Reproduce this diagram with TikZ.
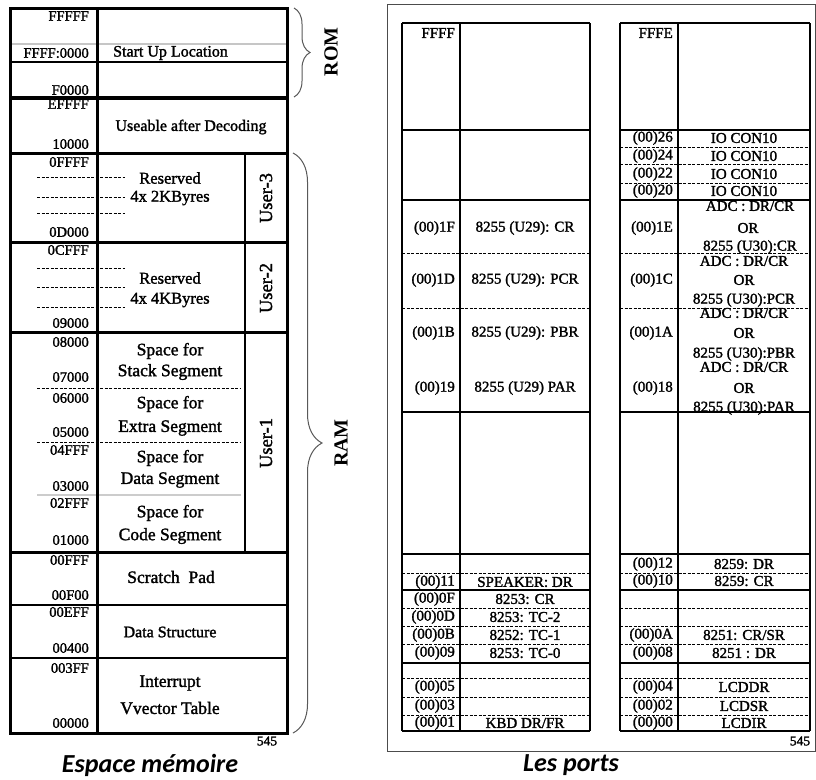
\documentclass[tikz,border=0pt]{standalone}
\usepackage{fontspec}
\setmainfont{Liberation Serif}
\newfontfamily\fb{Liberation Serif}[FakeBold=1.6]
\newfontfamily\capfont{Carlito}
\usetikzlibrary{decorations.pathreplacing}
\begin{document}
\begin{tikzpicture}[x=1pt,y=-1pt,
  thickln/.style={line width=3pt},
  thinln/.style={line width=1.1pt},
  dashln/.style={line width=0.9pt, dash pattern=on 3pt off 1.5pt},
  addr/.style={anchor=east, inner sep=0pt, font=\fb\fontsize{14.5}{14}\selectfont},
  cnt/.style={inner sep=0pt, font=\fb\fontsize{17.5}{17}\selectfont},
  usr/.style={inner sep=0pt, rotate=90, font=\fb\fontsize{18.5}{18}\selectfont},
  big/.style={inner sep=0pt, rotate=90, font=\fontsize{20}{20}\selectfont\bfseries},
  paddr/.style={anchor=east, inner sep=0pt, font=\fb\fontsize{15}{15}\selectfont},
  pcnt/.style={inner sep=0pt, font=\fb\fontsize{15}{15}\selectfont},
  brc/.style={decorate, line width=1pt, black!65},
  capt/.style={inner sep=0pt, font=\capfont\bfseries\itshape\fontsize{26}{26}\selectfont}]
\useasboundingbox (0,0) rectangle (816,779);
\fill[white] (0,0) rectangle (816,779);

% ---------------- Left: memory map ----------------
\draw[thinln, gray!45] (10,44) -- (287,44);
\draw[thinln] (10,62) -- (287,62);
\foreach \y in {177,197,213,268,287,307} \draw[dashln] (37,\y) -- (125,\y);
\draw[dashln] (37,388) -- (241,388);
\draw[dashln] (37,442) -- (241,442);
\draw[thinln, gray!40] (37,495) -- (241,495);
\draw[line width=4pt] (10,98) -- (287,98);
\foreach \y in {153,242,332,552} \draw[thickln] (10,\y) -- (287,\y);
\draw[thinln] (10,605) -- (287,605);
\draw[thinln] (10,658) -- (287,658);
\draw[thinln] (245,153) -- (245,552);
\draw[thickln] (97,8) -- (97,733);
\draw[thickln] (10,8) rectangle (287,733);

\node[addr] (aFFFFF) at (89,16) {FFFFF};
\node[addr] (aFFFF0) at (89,53) {FFFF:0000};
\node[addr] (aF0000) at (89,90) {F0000};
\node[addr] (aEFFFF) at (89,104) {EFFFF};
\node[addr] (a10000) at (89,144) {10000};
\node[addr] (a0FFFF) at (89,162) {0FFFF};
\node[addr] (a0D000) at (89,232) {0D000};
\node[addr] (a0CFFF) at (89,250) {0CFFF};
\node[addr] (a09000) at (89,323) {09000};
\node[addr] (a08000) at (89,342) {08000};
\node[addr] (a07000) at (89,377) {07000};
\node[addr] (a06000) at (89,398) {06000};
\node[addr] (a05000) at (89,432) {05000};
\node[addr] (a04FFF) at (89,450) {04FFF};
\node[addr] (a03000) at (89,486) {03000};
\node[addr] (a02FFF) at (89,503) {02FFF};
\node[addr] (a01000) at (89,540) {01000};
\node[addr] (a00FFF) at (89,560) {00FFF};
\node[addr] (a00F00) at (89,595) {00F00};
\node[addr] (a00EFF) at (89,612) {00EFF};
\node[addr] (a00400) at (89,648) {00400};
\node[addr] (a003FF) at (89,668) {003FF};
\node[addr] (a00000) at (89,723) {00000};

\node[cnt, anchor=west, font=\fb\fontsize{16}{16}\selectfont] (startup) at (113,53) {Start Up Location};
\node[cnt, font=\fb\fontsize{16}{16}\selectfont] (useable) at (191,127) {Useable after Decoding};
\node[cnt, font=\fb\fontsize{16.5}{17}\selectfont] (res3a) at (170,178) {Reserved};
\node[cnt, font=\fb\fontsize{16.5}{17}\selectfont] (res3b) at (170,198) {4x 2KByres};
\node[cnt, font=\fb\fontsize{16.5}{17}\selectfont] (res2a) at (170,278) {Reserved};
\node[cnt, font=\fb\fontsize{16.5}{17}\selectfont] (res2b) at (170,300) {4x 4KByres};
\node[cnt] (stka) at (170,351) {Space for};
\node[cnt] (stkb) at (170,372) {Stack Segment};
\node[cnt] (exta) at (170,404) {Space for};
\node[cnt] (extb) at (170,428) {Extra Segment};
\node[cnt] (data) at (170,458) {Space for};
\node[cnt] (datb) at (170,480) {Data Segment};
\node[cnt] (coda) at (170,513) {Space for};
\node[cnt] (codb) at (170,536) {Code Segment};
\node[cnt] (scratch) at (171,577) {Scratch\enspace Pad};
\node[cnt, font=\fb\fontsize{16}{16}\selectfont] (dstruct) at (170,632) {Data Structure};
\node[cnt] (intra) at (170,683) {Interrupt};
\node[cnt] (intrb) at (170,708) {Vvector Table};
\node[usr] (user3) at (266,198) {User-3};
\node[usr] (user2) at (266,288) {User-2};
\node[usr] (user1) at (266,443) {User-1};
\node[inner sep=0pt, font=\fb\fontsize{13.5}{13}\selectfont] (pg1) at (267,741) {545};

\draw[brc, decoration={brace, amplitude=16pt}] (294,8) -- (294,97);
\draw[brc, decoration={brace, amplitude=29pt}] (293,153) -- (293,733);
\node[big] (rom) at (331,52) {ROM};
\node[big] (ram) at (341,443) {RAM};

\node[capt] (cap1) at (150,765) {Espace mémoire};

% ---------------- Right: ports ----------------
\draw[line width=1pt, black!70] (387,4) rectangle (815,751);
\foreach \x in {402,460,590,620,678,810} \draw[thinln] (\x,23) -- (\x,731);
\foreach \y in {23,130,200,412,554,590,731} {
  \draw[thinln] (402,\y) -- (590,\y);
  \draw[thinln] (620,\y) -- (810,\y);
}
\draw[line width=2.5pt] (402,663) -- (590,663);
\draw[line width=2.5pt] (620,663) -- (810,663);
\foreach \y in {253,308,573,608,626,644,678,697,715} {
  \draw[dashln] (402,\y) -- (590,\y);
  \draw[dashln] (620,\y) -- (810,\y);
}
\foreach \y in {147,164,183} \draw[dashln] (620,\y) -- (810,\y);

% left table
\node[paddr] (pFFFF) at (455,33) {FFFF};
\node[paddr] (p1F) at (455,228) {(00)1F};
\node[paddr] (p1D) at (455,280) {(00)1D};
\node[paddr] (p1B) at (455,333) {(00)1B};
\node[paddr] (p19) at (455,388) {(00)19};
\node[paddr] (p11) at (455,582) {(00)11};
\node[paddr] (p0F) at (455,599) {(00)0F};
\node[paddr] (p0D) at (455,617) {(00)0D};
\node[paddr] (p0B) at (455,635) {(00)0B};
\node[paddr] (p09) at (455,653) {(00)09};
\node[paddr] (p05) at (455,687) {(00)05};
\node[paddr] (p03) at (455,706) {(00)03};
\node[paddr] (p01) at (455,723) {(00)01};
\node[pcnt] (c1F) at (525,228) {8255 (U29): CR};
\node[pcnt] (c1D) at (525,280) {8255 (U29): PCR};
\node[pcnt] (c1B) at (525,333) {8255 (U29): PBR};
\node[pcnt] (c19) at (525,388) {8255 (U29) PAR};
\node[pcnt] (c11) at (525,582) {SPEAKER: DR};
\node[pcnt] (c0F) at (525,599) {8253: CR};
\node[pcnt] (c0D) at (525,617) {8253: TC-2};
\node[pcnt] (c0B) at (525,635) {8252: TC-1};
\node[pcnt] (c09) at (525,653) {8253: TC-0};
\node[pcnt] (c01) at (525,723) {KBD DR/FR};

% right table
\node[paddr] (pFFFE) at (673,33) {FFFE};
\node[paddr] (p26) at (673,138) {(00)26};
\node[paddr] (p24) at (673,156) {(00)24};
\node[paddr] (p22) at (673,174) {(00)22};
\node[paddr] (p20) at (673,191) {(00)20};
\node[paddr] (p1E) at (673,228) {(00)1E};
\node[paddr] (p1C) at (673,280) {(00)1C};
\node[paddr] (p1A) at (673,333) {(00)1A};
\node[paddr] (p18) at (673,388) {(00)18};
\node[paddr] (p12) at (673,564) {(00)12};
\node[paddr] (p10) at (673,581) {(00)10};
\node[paddr] (p0A) at (673,635) {(00)0A};
\node[paddr] (p08) at (673,653) {(00)08};
\node[paddr] (p04) at (673,687) {(00)04};
\node[paddr] (p02) at (673,706) {(00)02};
\node[paddr] (p00) at (673,723) {(00)00};
\node[pcnt] (c26) at (744,138) {IO CON10};
\node[pcnt] (c24) at (744,156) {IO CON10};
\node[pcnt] (c22) at (744,174) {IO CON10};
\node[pcnt] (c20) at (744,191) {IO CON10};
\node[pcnt] (c1Ea) at (750,206) {ADC : DR/CR};
\node[pcnt] (c1Eb) at (748,228) {OR};
\node[pcnt] (c1Ec) at (750,247) {8255 (U30):CR};
\node[pcnt] (c1Ca) at (744,261) {ADC : DR/CR};
\node[pcnt] (c1Cb) at (744,280) {OR};
\node[pcnt] (c1Cc) at (744,300) {8255 (U30):PCR};
\node[pcnt] (c1Aa) at (744,313) {ADC : DR/CR};
\node[pcnt] (c1Ab) at (744,333) {OR};
\node[pcnt] (c1Ac) at (744,354) {8255 (U30):PBR};
\node[pcnt] (c18a) at (744,367) {ADC : DR/CR};
\node[pcnt] (c18b) at (744,388) {OR};
\node[pcnt] (c18c) at (744,408) {8255 (U30):PAR};
\node[pcnt] (c12) at (744,564) {8259: DR};
\node[pcnt] (c10) at (744,581) {8259: CR};
\node[pcnt] (c0A) at (744,635) {8251: CR/SR};
\node[pcnt] (c08) at (744,653) {8251 : DR};
\node[pcnt] (c04) at (744,687) {LCDDR};
\node[pcnt] (c02) at (744,706) {LCDSR};
\node[pcnt] (c00) at (744,723) {LCDIR};
\node[inner sep=0pt, font=\fb\fontsize{13.5}{13}\selectfont] (pg2) at (800,741) {545};

\node[capt] (cap2) at (571,765) {Les ports};
\end{tikzpicture}
\end{document}
